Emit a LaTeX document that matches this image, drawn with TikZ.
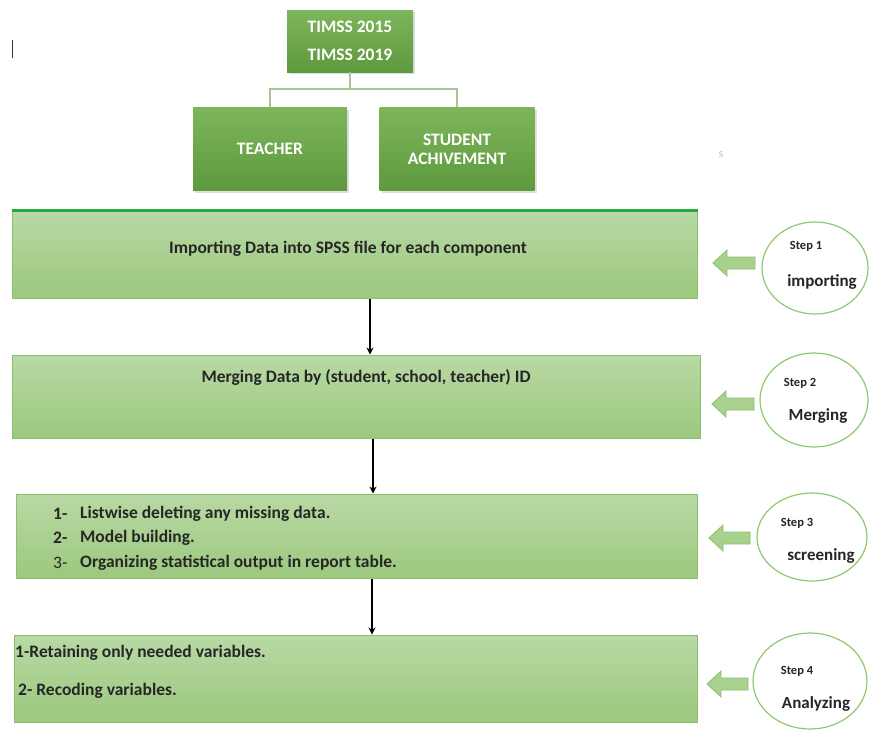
\documentclass[tikz,border=0pt]{standalone}
\usepackage{fontspec}
\setmainfont{Carlito}
\usetikzlibrary{arrows.meta,shadows,shapes.geometric}
\definecolor{darkT}{HTML}{7DB55A}
\definecolor{darkB}{HTML}{5E993E}
\definecolor{lightT}{HTML}{B8D9A4}
\definecolor{lightB}{HTML}{9CC87E}
\definecolor{lightEdge}{HTML}{8CC06C}
\definecolor{ellEdge}{HTML}{8FC870}
\definecolor{treeLine}{HTML}{A9C597}
\definecolor{topBar}{HTML}{22A846}
\definecolor{blockFill}{HTML}{A9D18E}
\definecolor{blockEdge}{HTML}{8CBF6C}
\tikzset{
  darkbox/.style={rectangle, top color=darkT, bottom color=darkB, draw=none,
    drop shadow={opacity=0.25, shadow xshift=2pt, shadow yshift=-2pt},
    text=white, font=\bfseries\fontsize{17.5}{21}\selectfont, align=center, inner sep=0pt},
  lightbox/.style={rectangle, top color=lightT, bottom color=lightB, draw=lightEdge, line width=1pt, inner sep=0pt},
  boxtext/.style={font=\bfseries\fontsize{17.5}{21}\selectfont, text=black!85, inner sep=0pt},
  listtext/.style={font=\bfseries\fontsize{17.5}{21}\selectfont, text=black!85, inner sep=0pt, anchor=west},
  stepell/.style={ellipse, draw=ellEdge, line width=1.2pt, fill=white, inner sep=0pt},
  steptext/.style={font=\bfseries\fontsize{12.5}{14}\selectfont, text=black!85, inner sep=0pt},
  stepname/.style={font=\bfseries\fontsize{17}{20}\selectfont, text=black!85, inner sep=0pt},
  treeconn/.style={draw=treeLine, line width=1.2pt},
  flowarrow/.style={draw=black, line width=1.4pt, -{Stealth[length=7pt,width=7pt]}},
  blockarrow/.style={fill=blockFill, draw=blockEdge, line width=0.8pt, line join=miter},
  whitetext/.style={text=white, font=\bfseries\fontsize{17.5}{21}\selectfont, inner sep=0pt},
}
\begin{document}
\begin{tikzpicture}[x=1pt,y=-1pt]
\useasboundingbox (0,0) rectangle (869,729);
% stray marks
\draw[black!80, line width=1pt] (12,40) -- (12,58);
\node[text=black!25, font=\fontsize{12}{13}\selectfont, inner sep=0pt] (s) at (721,155) {s};

% top tree
\node[darkbox, minimum width=126pt, minimum height=62pt] (timss) at (350,41) {};
\node[whitetext] (t15) at (350,27) {TIMSS 2015};
\node[whitetext] (t19) at (350,55) {TIMSS 2019};

\node[darkbox, minimum width=154pt, minimum height=83pt] (teacher) at (270,149) {TEACHER};
\node[darkbox, minimum width=155pt, minimum height=83pt] (student) at (457,149) {STUDENT\\[-2pt]ACHIVEMENT};

\coordinate (j) at (350,89);
\draw[treeconn] (timss.south) -- (j);
\draw[treeconn] (teacher.north) |- (j);
\draw[treeconn] (student.north) |- (j);

% main boxes
\node[lightbox, minimum width=685pt, minimum height=87pt] (b1) at (354.5,254.5) {};
\draw[topBar, line width=3pt] (b1.north west) -- (b1.north east);
\node[boxtext] (b1t) at (348,249) {Importing Data into SPSS file for each component};

\node[lightbox, minimum width=688pt, minimum height=83pt] (b2) at (356,396.5) {};
\node[boxtext] (b2t) at (366,377) {Merging Data by (student, school, teacher) ID};

\node[lightbox, minimum width=681pt, minimum height=84pt] (b3) at (356.5,536) {};
\node[listtext] (l1n) at (53,514) {1-};
\node[listtext] (l1) at (80,514) {Listwise deleting any missing data.};
\node[listtext] (l2n) at (53,538) {2-};
\node[listtext] (l2) at (80,538) {Model building.};
\node[listtext, font=\fontsize{17.5}{21}\selectfont] (l3n) at (53,563) {3-};
\node[listtext] (l3) at (80,563) {Organizing statistical output in report table.};

\node[lightbox, minimum width=683pt, minimum height=87pt] (b4) at (355.5,678.5) {};
\node[listtext] (r1) at (15,653) {1-Retaining only needed variables.};
\node[listtext] (r2) at (18,691) {2- Recoding variables.};

% flow arrows
\coordinate (a1) at (370,0);
\coordinate (a2) at (373,0);
\coordinate (a3) at (372,0);
\draw[flowarrow] (b1.south -| a1) -- (b2.north -| a1);
\draw[flowarrow] (b2.south -| a2) -- (b3.north -| a2);
\draw[flowarrow] (b3.south -| a3) -- (b4.north -| a3);

% step ellipses
\node[stepell, minimum width=106pt, minimum height=92pt] (e1) at (815,268) {};
\node[steptext] (e1a) at (806,246) {Step 1};
\node[stepname] (e1b) at (822,282) {importing};
\node[stepell, minimum width=108pt, minimum height=94pt] (e2) at (814,400) {};
\node[steptext] (e2a) at (800,383) {Step 2};
\node[stepname] (e2b) at (818,416) {Merging};
\node[stepell, minimum width=110pt, minimum height=88pt] (e3) at (812,537) {};
\node[steptext] (e3a) at (797,523) {Step 3};
\node[stepname] (e3b) at (821,556) {screening};
\node[stepell, minimum width=114pt, minimum height=96pt] (e4) at (810,681) {};
\node[steptext] (e4a) at (797,671) {Step 4};
\node[stepname] (e4b) at (816,704) {Analyzing};

% block arrows
\foreach \t/\e/\c in {713/755/263, 712/754/404, 709/750/538, 707/748/684}{
  \draw[blockarrow] (\t,\c) -- (\t+14,\c-13) -- (\t+14,\c-6) -- (\e,\c-6) -- (\e,\c+6) -- (\t+14,\c+6) -- (\t+14,\c+13) -- cycle;
}
\end{tikzpicture}
\end{document}
